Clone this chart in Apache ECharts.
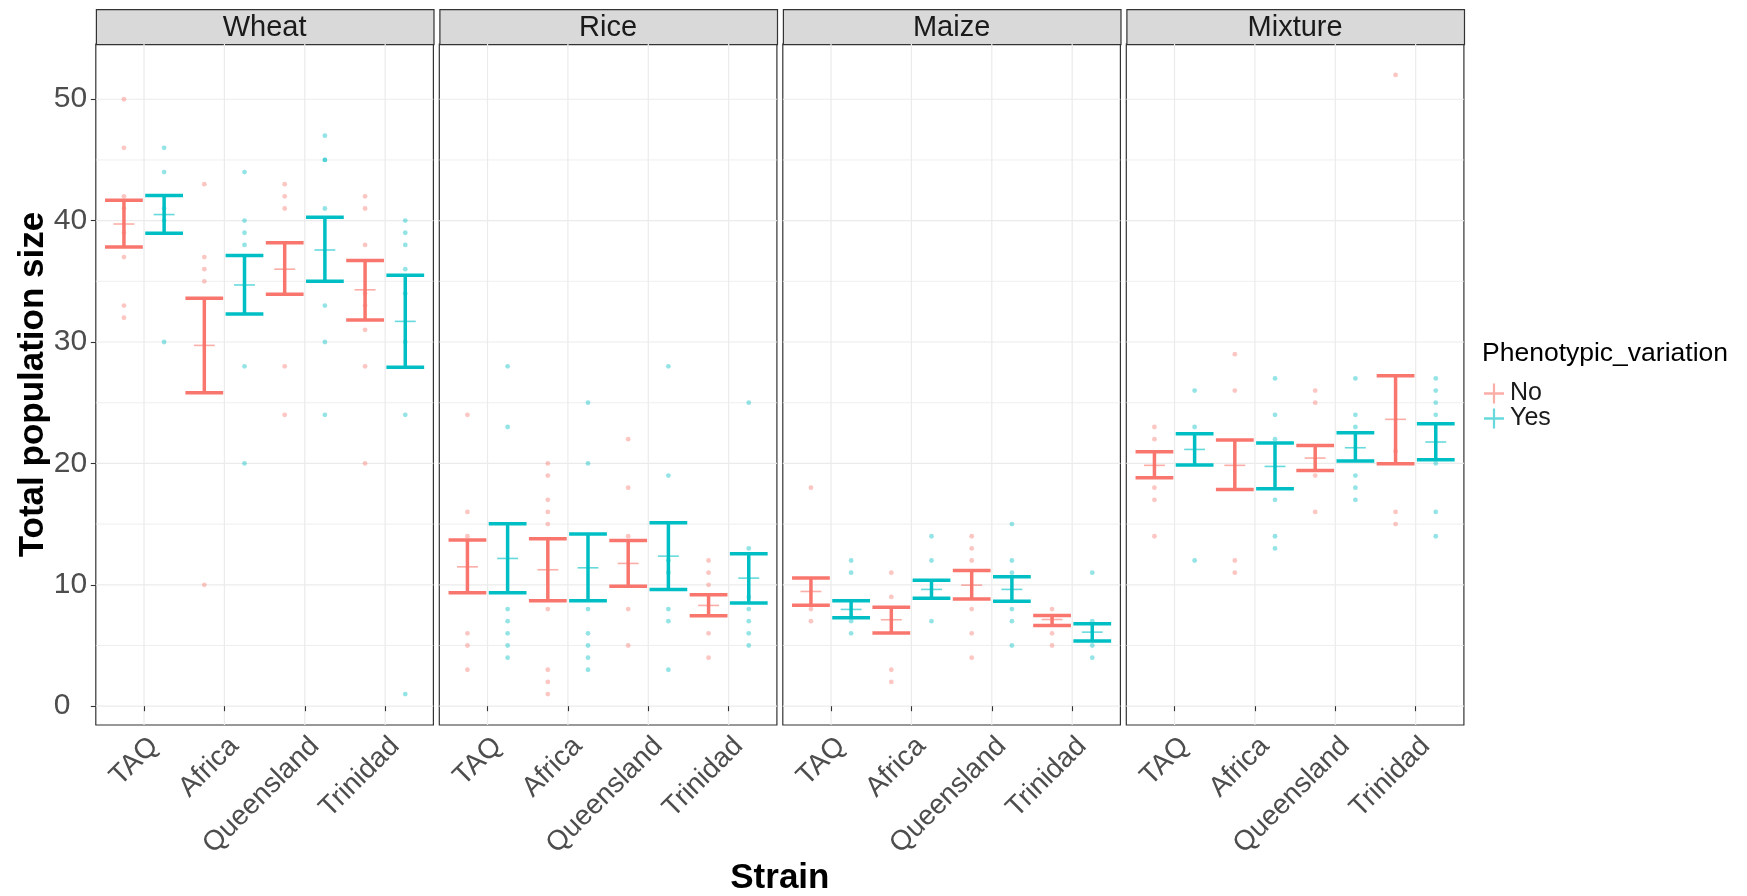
<!DOCTYPE html>
<html><head><meta charset="utf-8">
<script src="https://cdn.jsdelivr.net/npm/echarts@6/dist/echarts.min.js"></script>
<style>html,body{margin:0;padding:0;background:#fff}#c{width:1747px;height:896px}</style>
</head><body><div id="c"></div>
<script>
// ---------- data ----------
const panels = ['Wheat', 'Rice', 'Maize', 'Mixture'];
const strains = ['TAQ', 'Africa', 'Queensland', 'Trinidad'];
const groupNames = ['No', 'Yes'];
const yTicks = [0, 10, 20, 30, 40, 50];
const yMinor = [5, 15, 25, 35, 45];
const xTicks = [1, 2, 3, 4];

// mean and error-bar limits per strain (TAQ, Africa, Queensland, Trinidad)
const wheatNoMean = [39.72, 29.72, 36.0, 34.3];
const wheatNoLow = [37.82, 25.83, 33.94, 31.82];
const wheatNoHigh = [41.68, 33.6, 38.18, 36.72];
const wheatYesMean = [40.5, 34.7, 37.58, 31.7];
const wheatYesLow = [38.95, 32.31, 35.01, 27.93];
const wheatYesHigh = [42.07, 37.13, 40.28, 35.5];

const riceNoMean = [11.48, 11.24, 11.76, 8.3];
const riceNoLow = [9.34, 8.68, 9.89, 7.45];
const riceNoHigh = [13.7, 13.79, 13.65, 9.18];
const riceYesMean = [12.17, 11.4, 12.36, 10.55];
const riceYesLow = [9.34, 8.68, 9.62, 8.49];
const riceYesHigh = [15.03, 14.18, 15.11, 12.55];

const maizeNoMean = [9.45, 7.12, 9.97, 7.14];
const maizeNoLow = [8.32, 6.02, 8.82, 6.65];
const maizeNoHigh = [10.55, 8.16, 11.18, 7.47];
const maizeYesMean = [7.97, 9.62, 9.62, 6.1];
const maizeYesLow = [7.28, 8.9, 8.65, 5.38];
const maizeYesHigh = [8.68, 10.38, 10.66, 6.79];

const mixNoMean = [19.84, 19.84, 20.44, 23.63];
const mixNoLow = [18.82, 17.86, 19.42, 19.97];
const mixNoHigh = [20.96, 21.92, 21.48, 27.22];
const mixYesMean = [21.15, 19.75, 21.29, 21.76];
const mixYesLow = [19.86, 17.91, 20.19, 20.3];
const mixYesHigh = [22.45, 21.68, 22.53, 23.27];

// raw observations per strain
const wheatNoPts = [[50,46,42,41,39,37,33,32],[43,37,36,35,10],[43,42,41,28,24],[42,41,38,34,33,31,28,20]];
const wheatYesPts = [[46,44,41,40,30],[44,40,39,38,28,20],[47,45,45,41,33,30,24],[40,39,38,36,34,30,24,1]];
const riceNoPts = [[24,16,14,6,5,3],[20,19,17,16,15,8,3,2,1],[22,18,14,8,5],[12,11,10,6,4]];
const riceYesPts = [[28,23,8,7,6,5,4],[25,20,8,6,5,4,3],[28,19,12,11,8,7,3],[25,13,9,8,7,6,5]];
const maizeNoPts = [[18,8,7],[11,9,3,2],[14,13,12,8,6,4],[8,6,5]];
const maizeYesPts = [[12,11,7,6],[14,12,7],[15,12,11,8,7,5],[11,7,5,4]];
const mixNoPts = [[23,22,18,17,14],[29,26,12,11],[26,25,19,16],[52,21,16,15]];
const mixYesPts = [[26,23,12],[27,24,22,17,14,13],[27,24,23,19,18,17],[27,26,25,24,20,16,14]];

// ---------- layout / style ----------
const FONT = '"Liberation Sans", Arial, Helvetica, sans-serif';
const COLORS = { No: '#F8766D', Yes: '#00BFC4' };
const L0 = 95.8, STEP = 343.5, PW = 337.6, PT = 44, PH = 681;
const STRIP_TOP = 9;
const YMIN = -1.55, YMAX = 54.55;
const DODGE = 0.25;

const groups = [
  [wheatNoMean, wheatNoLow, wheatNoHigh, wheatNoPts, wheatYesMean, wheatYesLow, wheatYesHigh, wheatYesPts],
  [riceNoMean, riceNoLow, riceNoHigh, riceNoPts, riceYesMean, riceYesLow, riceYesHigh, riceYesPts],
  [maizeNoMean, maizeNoLow, maizeNoHigh, maizeNoPts, maizeYesMean, maizeYesLow, maizeYesHigh, maizeYesPts],
  [mixNoMean, mixNoLow, mixNoHigh, mixNoPts, mixYesMean, mixYesLow, mixYesHigh, mixYesPts]
];

const grid = [], xAxis = [], yAxis = [], series = [], graphic = [];

const gridRows = [];
yTicks.forEach(v => gridRows.push([1, v, 0, 1]));
yMinor.forEach(v => gridRows.push([1, v, 0, 0]));
xTicks.forEach(v => gridRows.push([v, 0, 1, 1]));

panels.forEach((p, i) => {
  const left = L0 + i * STEP;
  grid.push({ left: left, top: PT, width: PW, height: PH, show: true,
    borderColor: '#333333', borderWidth: 1.2, backgroundColor: '#fff' });
  xAxis.push({
    type: 'value', gridIndex: i, min: 0.4, max: 4.6,
    axisLine: { show: false },
    splitLine: { show: false },
    axisTick: { show: true, customValues: xTicks, length: 5, lineStyle: { color: '#333333', width: 1.1 } },
    axisLabel: { show: true, customValues: xTicks, rotate: 45, margin: 7, align: 'right', verticalAlign: 'top',
      fontSize: 28, fontFamily: FONT, color: '#4D4D4D',
      formatter: v => strains[Math.round(v) - 1] }
  });
  yAxis.push({
    type: 'value', gridIndex: i, min: YMIN, max: YMAX,
    axisLine: { show: false },
    splitLine: { show: false },
    axisTick: { show: i === 0, customValues: yTicks, length: 5, lineStyle: { color: '#333333', width: 1.1 } },
    axisLabel: { show: i === 0, customValues: yTicks, margin: 42, align: 'left',
      fontSize: 30, fontFamily: FONT, color: '#4D4D4D' }
  });
  // gridlines
  series.push({
    type: 'custom', xAxisIndex: i, yAxisIndex: i, silent: true, z: 0,
    data: gridRows,
    renderItem: (params, api) => {
      const cs = params.coordSys;
      const pt = api.coord([api.value(0), api.value(1)]);
      const vertical = api.value(2) === 1;
      const major = api.value(3) === 1;
      const shape = vertical
        ? { x1: pt[0], y1: cs.y, x2: pt[0], y2: cs.y + cs.height }
        : { x1: cs.x, y1: pt[1], x2: cs.x + cs.width, y2: pt[1] };
      return { type: 'line', shape: shape, style: { stroke: '#EBEBEB', lineWidth: major ? 1.2 : 0.8 } };
    }
  });
  const g = groups[i];
  groupNames.forEach((gn, k) => {
    const mean = g[k * 4], lo = g[k * 4 + 1], hi = g[k * 4 + 2], pts = g[k * 4 + 3];
    const off = k === 0 ? -DODGE : DODGE;
    const scat = [];
    pts.forEach((arr, s) => arr.forEach(v => scat.push([s + 1 + off, v])));
    series.push({
      name: gn, type: 'scatter', xAxisIndex: i, yAxisIndex: i, z: 2,
      symbol: 'circle', symbolSize: 4.8,
      itemStyle: { color: COLORS[gn], opacity: 0.42 },
      data: scat
    });
    series.push({
      name: gn, type: 'custom', xAxisIndex: i, yAxisIndex: i, z: 3,
      itemStyle: { color: COLORS[gn] },
      encode: { x: 0, y: [1, 2, 3] },
      data: strains.map((s, j) => [j + 1 + off, lo[j], hi[j], mean[j]]),
      renderItem: (params, api) => {
        const x = api.value(0);
        const a = api.coord([x, api.value(1)]);
        const b = api.coord([x, api.value(2)]);
        const m = api.coord([x, api.value(3)]);
        const unit = api.size([1, 0])[0];
        const cw = unit * 0.235, mw = unit * 0.13;
        const c = COLORS[gn];
        const st = { stroke: c, lineWidth: 3.5 };
        return { type: 'group', children: [
          { type: 'line', shape: { x1: a[0], y1: a[1], x2: b[0], y2: b[1] }, style: st },
          { type: 'line', shape: { x1: a[0] - cw, y1: a[1], x2: a[0] + cw, y2: a[1] }, style: st },
          { type: 'line', shape: { x1: b[0] - cw, y1: b[1], x2: b[0] + cw, y2: b[1] }, style: st },
          { type: 'line', shape: { x1: m[0] - mw, y1: m[1], x2: m[0] + mw, y2: m[1] },
            style: { stroke: c, lineWidth: 1.6, opacity: 0.6 } }
        ] };
      }
    });
  });
  // strip
  graphic.push({ type: 'rect', left: left, top: STRIP_TOP, silent: true,
    shape: { width: PW, height: PT - STRIP_TOP },
    style: { fill: '#D9D9D9', stroke: '#333333', lineWidth: 1.2 } });
  graphic.push({ type: 'text', x: left + PW / 2, y: (STRIP_TOP + PT) / 2 + 1, silent: true,
    style: { text: p, font: '29px ' + FONT, fill: '#1A1A1A', align: 'center', verticalAlign: 'middle' } });
});

// axis titles + legend title
graphic.push({ type: 'text', x: 33, y: PT + PH / 2, rotation: Math.PI / 2, silent: true,
  style: { text: 'Total population size', font: 'bold 35px ' + FONT, fill: '#000000', align: 'center', verticalAlign: 'middle' } });
graphic.push({ type: 'text', x: L0 + (3 * STEP + PW) / 2, y: 878, silent: true,
  style: { text: 'Strain', font: 'bold 35px ' + FONT, fill: '#000000', align: 'center', verticalAlign: 'middle' } });
graphic.push({ type: 'text', x: 1482, y: 354, silent: true,
  style: { text: 'Phenotypic_variation', font: '26.5px ' + FONT, fill: '#000000', align: 'left', verticalAlign: 'middle' } });

const crossIcon = 'path://M0,8.7h20v2.6h-20z M8.9,0h2.2v20h-2.2z';

const option = {
  animation: false,
  backgroundColor: '#ffffff',
  grid: grid, xAxis: xAxis, yAxis: yAxis, series: series, graphic: graphic,
  legend: {
    orient: 'vertical', left: 1479, top: 376, itemWidth: 20, itemHeight: 20, itemGap: 0,
    selectedMode: false,
    textStyle: { fontSize: 25, fontFamily: FONT, color: '#1A1A1A', padding: [0, 0, 0, 1] },
    data: [
      { name: 'No', icon: crossIcon, itemStyle: { color: COLORS.No, opacity: 0.6 } },
      { name: 'Yes', icon: crossIcon, itemStyle: { color: COLORS.Yes, opacity: 0.6 } }
    ]
  }
};
const chart = echarts.init(document.getElementById('c'));
chart.setOption(option);
</script></body></html>
